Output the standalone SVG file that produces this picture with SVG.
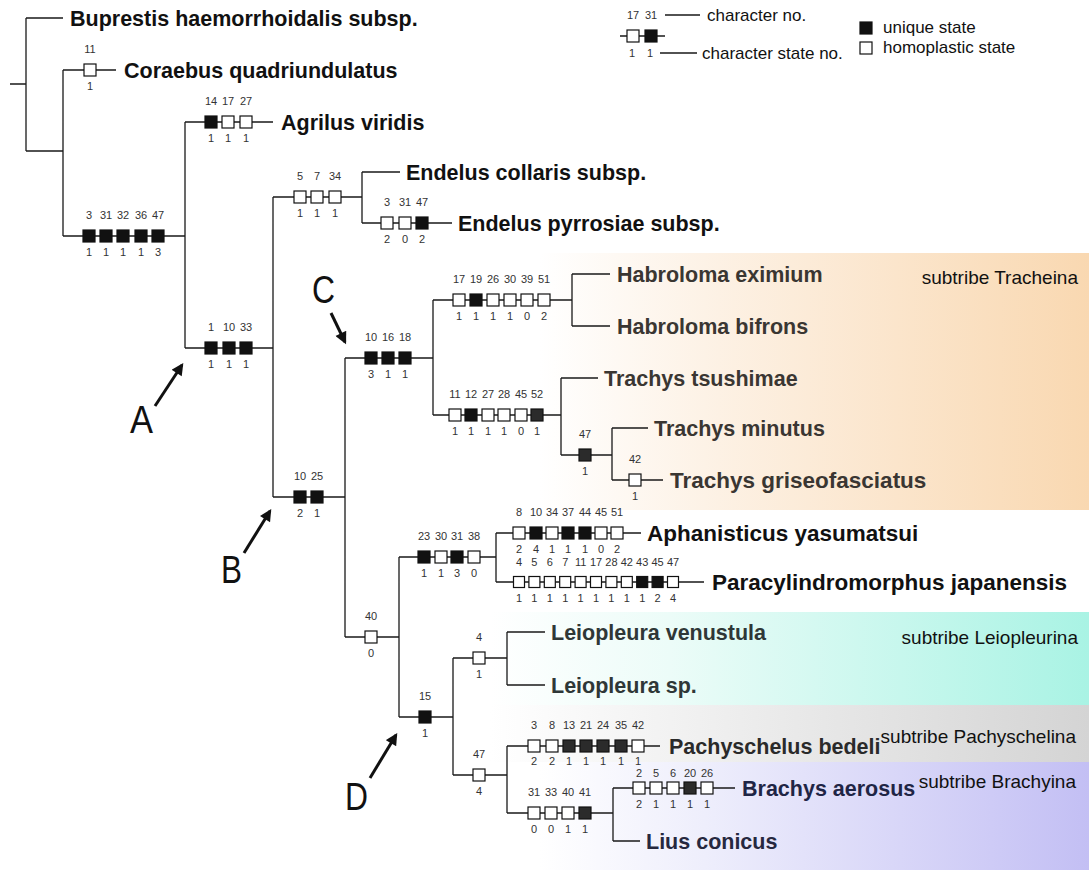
<svg xmlns="http://www.w3.org/2000/svg" width="1089" height="870" viewBox="0 0 1089 870">
<style>
  .ln{stroke:#1a1a1a;stroke-width:1.3;fill:none}
  .w{fill:#fff;stroke:#111;stroke-width:1.2}
  .b{fill:#111;stroke:#111;stroke-width:1.2}
  .d{fill:#2b2b2b;stroke:#111;stroke-width:1.2}
  .n{font-family:"Liberation Sans",Arial,sans-serif;font-size:11px;fill:#333;text-anchor:middle}
  .sp{font-family:"Liberation Sans",Arial,sans-serif;font-size:21.5px;font-weight:bold;fill:#111}
  .big{font-size:22.5px}
  .st{font-family:"Liberation Sans",Arial,sans-serif;font-size:19px;fill:#111;text-anchor:end}
  .lg{font-family:"Liberation Sans",Arial,sans-serif;font-size:17px;fill:#111}
  .let{font-family:"Liberation Sans",Arial,sans-serif;font-size:38px;fill:#111}
  .arr{stroke:#111;stroke-width:3;fill:none;marker-end:url(#ah)}
</style>
<defs>
  <marker id="ah" viewBox="0 0 10 10" refX="8" refY="5" markerWidth="4.5" markerHeight="4" orient="auto" markerUnits="strokeWidth">
    <path d="M0,0 L10,5 L0,10 z" fill="#111"/>
  </marker>
  <linearGradient id="gTrach" x1="0" y1="0" x2="1" y2="0">
    <stop offset="0" stop-color="#ffffff"/>
    <stop offset="0.3" stop-color="#fdf2e6"/>
    <stop offset="1" stop-color="#f9d8b1"/>
  </linearGradient>
  <linearGradient id="gLeio" x1="0" y1="0" x2="1" y2="0">
    <stop offset="0" stop-color="#ffffff"/>
    <stop offset="0.3" stop-color="#ecfcf8"/>
    <stop offset="1" stop-color="#a9f3e4"/>
  </linearGradient>
  <linearGradient id="gPach" x1="0" y1="0" x2="1" y2="0">
    <stop offset="0" stop-color="#ffffff"/>
    <stop offset="1" stop-color="#d4d4d4"/>
  </linearGradient>
  <linearGradient id="gBrach" x1="0" y1="0" x2="1" y2="0">
    <stop offset="0" stop-color="#ffffff"/>
    <stop offset="0.3" stop-color="#eeeefc"/>
    <stop offset="1" stop-color="#c3bff4"/>
  </linearGradient>
</defs>

<rect width="1089" height="870" fill="#fff"/>

<!-- subtribe shading bands -->
<g id="bands">
  <rect x="540" y="253" width="549" height="257" fill="url(#gTrach)"/>
  <rect x="490" y="612" width="599" height="93" fill="url(#gLeio)"/>
  <rect x="490" y="705" width="599" height="57" fill="url(#gPach)"/>
  <rect x="540" y="762" width="549" height="108" fill="url(#gBrach)"/>
</g>

<!-- tree branches -->
<g id="connectors">
  <path class="ln" d="M10,84H26 M26,18V151 M26,18H63 M26,151H63
    M63,70V236 M63,70H116 M63,236H185
    M185,122V348 M185,122H273 M185,348H273
    M273,197V497 M273,197H362 M362,172V223 M362,172H400 M362,223H452
    M273,497H345 M345,358V637 M345,358H433
    M433,300V415 M433,300H572 M572,274V326 M572,274H610 M572,326H610
    M433,415H561 M561,378V455 M561,378H598 M561,455H612
    M612,428V480 M612,428H648 M612,480H663
    M345,637H399 M399,557V717 M399,557H496
    M496,533V582 M496,533H641 M496,582H704
    M399,717H453 M453,658V775 M453,658H507
    M507,632V685 M507,632H545 M507,685H545
    M453,775H507 M507,746V813 M507,746H660
    M507,813H613 M613,788V841 M613,788H735 M613,841H640"/>
</g>

<!-- character state markers on branches -->
<g id="br-coraebus">
  <rect class="w" x="84" y="64" width="12" height="12"/>
  <text class="n" y="53"><tspan x="90">11</tspan></text>
  <text class="n" y="90"><tspan x="90">1</tspan></text>
</g>
<g id="br-ingroup">
  <rect class="b" x="83" y="230" width="12" height="12"/>
  <rect class="b" x="100" y="230" width="12" height="12"/>
  <rect class="b" x="117" y="230" width="12" height="12"/>
  <rect class="b" x="135" y="230" width="12" height="12"/>
  <rect class="b" x="152" y="230" width="12" height="12"/>
  <text class="n" y="219"><tspan x="89">3</tspan><tspan x="106">31</tspan><tspan x="123">32</tspan><tspan x="141">36</tspan><tspan x="158">47</tspan></text>
  <text class="n" y="256"><tspan x="89">1</tspan><tspan x="106">1</tspan><tspan x="123">1</tspan><tspan x="141">1</tspan><tspan x="158">3</tspan></text>
</g>
<g id="br-agrilus">
  <rect class="b" x="205" y="116" width="12" height="12"/>
  <rect class="w" x="222" y="116" width="12" height="12"/>
  <rect class="w" x="240" y="116" width="12" height="12"/>
  <text class="n" y="105"><tspan x="211">14</tspan><tspan x="228">17</tspan><tspan x="246">27</tspan></text>
  <text class="n" y="142"><tspan x="211">1</tspan><tspan x="228">1</tspan><tspan x="246">1</tspan></text>
</g>
<g id="br-A">
  <rect class="b" x="205" y="342" width="12" height="12"/>
  <rect class="b" x="223" y="342" width="12" height="12"/>
  <rect class="b" x="240" y="342" width="12" height="12"/>
  <text class="n" y="331"><tspan x="211">1</tspan><tspan x="229">10</tspan><tspan x="246">33</tspan></text>
  <text class="n" y="368"><tspan x="211">1</tspan><tspan x="229">1</tspan><tspan x="246">1</tspan></text>
</g>
<g id="br-endelus">
  <rect class="w" x="294" y="191" width="12" height="12"/>
  <rect class="w" x="311" y="191" width="12" height="12"/>
  <rect class="w" x="329" y="191" width="12" height="12"/>
  <text class="n" y="180"><tspan x="300">5</tspan><tspan x="317">7</tspan><tspan x="335">34</tspan></text>
  <text class="n" y="217"><tspan x="300">1</tspan><tspan x="317">1</tspan><tspan x="335">1</tspan></text>
</g>
<g id="br-pyrrosiae">
  <rect class="w" x="381" y="217" width="12" height="12"/>
  <rect class="w" x="399" y="217" width="12" height="12"/>
  <rect class="b" x="416" y="217" width="12" height="12"/>
  <text class="n" y="206"><tspan x="387">3</tspan><tspan x="405">31</tspan><tspan x="422">47</tspan></text>
  <text class="n" y="243"><tspan x="387">2</tspan><tspan x="405">0</tspan><tspan x="422">2</tspan></text>
</g>
<g id="br-B">
  <rect class="b" x="294" y="491" width="12" height="12"/>
  <rect class="b" x="311" y="491" width="12" height="12"/>
  <text class="n" y="480"><tspan x="300">10</tspan><tspan x="317">25</tspan></text>
  <text class="n" y="517"><tspan x="300">2</tspan><tspan x="317">1</tspan></text>
</g>
<g id="br-C">
  <rect class="b" x="365" y="352" width="12" height="12"/>
  <rect class="b" x="382" y="352" width="12" height="12"/>
  <rect class="b" x="399" y="352" width="12" height="12"/>
  <text class="n" y="341"><tspan x="371">10</tspan><tspan x="388">16</tspan><tspan x="405">18</tspan></text>
  <text class="n" y="378"><tspan x="371">3</tspan><tspan x="388">1</tspan><tspan x="405">1</tspan></text>
</g>
<g id="br-habroloma">
  <rect class="w" x="453" y="294" width="12" height="12"/>
  <rect class="b" x="470" y="294" width="12" height="12"/>
  <rect class="w" x="487" y="294" width="12" height="12"/>
  <rect class="w" x="504" y="294" width="12" height="12"/>
  <rect class="w" x="521" y="294" width="12" height="12"/>
  <rect class="w" x="538" y="294" width="12" height="12"/>
  <text class="n" y="283"><tspan x="459">17</tspan><tspan x="476">19</tspan><tspan x="493">26</tspan><tspan x="510">30</tspan><tspan x="527">39</tspan><tspan x="544">51</tspan></text>
  <text class="n" y="320"><tspan x="459">1</tspan><tspan x="476">1</tspan><tspan x="493">1</tspan><tspan x="510">1</tspan><tspan x="527">0</tspan><tspan x="544">2</tspan></text>
</g>
<g id="br-trachys">
  <rect class="w" x="449" y="409" width="12" height="12"/>
  <rect class="b" x="465" y="409" width="12" height="12"/>
  <rect class="w" x="482" y="409" width="12" height="12"/>
  <rect class="w" x="498" y="409" width="12" height="12"/>
  <rect class="w" x="515" y="409" width="12" height="12"/>
  <rect class="d" x="531" y="409" width="12" height="12"/>
  <text class="n" y="398"><tspan x="455">11</tspan><tspan x="471">12</tspan><tspan x="488">27</tspan><tspan x="504">28</tspan><tspan x="521">45</tspan><tspan x="537">52</tspan></text>
  <text class="n" y="435"><tspan x="455">1</tspan><tspan x="471">1</tspan><tspan x="488">1</tspan><tspan x="504">1</tspan><tspan x="521">0</tspan><tspan x="537">1</tspan></text>
</g>
<g id="br-trachys47">
  <rect class="d" x="579" y="449" width="12" height="12"/>
  <text class="n" y="438"><tspan x="585">47</tspan></text>
  <text class="n" y="475"><tspan x="585">1</tspan></text>
</g>
<g id="br-griseo">
  <rect class="w" x="629" y="474" width="12" height="12"/>
  <text class="n" y="463"><tspan x="635">42</tspan></text>
  <text class="n" y="500"><tspan x="635">1</tspan></text>
</g>
<g id="br-40">
  <rect class="w" x="365" y="631" width="12" height="12"/>
  <text class="n" y="620"><tspan x="371">40</tspan></text>
  <text class="n" y="657"><tspan x="371">0</tspan></text>
</g>
<g id="br-aphpara">
  <rect class="b" x="418" y="551" width="12" height="12"/>
  <rect class="w" x="435" y="551" width="12" height="12"/>
  <rect class="b" x="451" y="551" width="12" height="12"/>
  <rect class="w" x="468" y="551" width="12" height="12"/>
  <text class="n" y="540"><tspan x="424">23</tspan><tspan x="441">30</tspan><tspan x="457">31</tspan><tspan x="474">38</tspan></text>
  <text class="n" y="577"><tspan x="424">1</tspan><tspan x="441">1</tspan><tspan x="457">3</tspan><tspan x="474">0</tspan></text>
</g>
<g id="br-aphanisticus">
  <rect class="w" x="513" y="527" width="12" height="12"/>
  <rect class="b" x="530" y="527" width="12" height="12"/>
  <rect class="w" x="546" y="527" width="12" height="12"/>
  <rect class="b" x="562" y="527" width="12" height="12"/>
  <rect class="b" x="579" y="527" width="12" height="12"/>
  <rect class="w" x="595" y="527" width="12" height="12"/>
  <rect class="w" x="611" y="527" width="12" height="12"/>
  <text class="n" y="516"><tspan x="519">8</tspan><tspan x="536">10</tspan><tspan x="552">34</tspan><tspan x="568">37</tspan><tspan x="585">44</tspan><tspan x="601">45</tspan><tspan x="617">51</tspan></text>
  <text class="n" y="553"><tspan x="519">2</tspan><tspan x="536">4</tspan><tspan x="552">1</tspan><tspan x="568">1</tspan><tspan x="585">1</tspan><tspan x="601">0</tspan><tspan x="617">2</tspan></text>
</g>
<g id="br-paracylindromorphus">
  <rect class="w" x="513.5" y="576.5" width="11" height="11"/>
  <rect class="w" x="528.9" y="576.5" width="11" height="11"/>
  <rect class="w" x="544.3" y="576.5" width="11" height="11"/>
  <rect class="w" x="559.7" y="576.5" width="11" height="11"/>
  <rect class="w" x="575.1" y="576.5" width="11" height="11"/>
  <rect class="w" x="590.5" y="576.5" width="11" height="11"/>
  <rect class="w" x="605.9" y="576.5" width="11" height="11"/>
  <rect class="w" x="621.3" y="576.5" width="11" height="11"/>
  <rect class="b" x="636.7" y="576.5" width="11" height="11"/>
  <rect class="b" x="652.1" y="576.5" width="11" height="11"/>
  <rect class="w" x="667.5" y="576.5" width="11" height="11"/>
  <text class="n" y="566"><tspan x="519">4</tspan><tspan x="534.4">5</tspan><tspan x="549.8">6</tspan><tspan x="565.2">7</tspan><tspan x="580.6">11</tspan><tspan x="596">17</tspan><tspan x="611.4">28</tspan><tspan x="626.8">42</tspan><tspan x="642.2">43</tspan><tspan x="657.6">45</tspan><tspan x="673">47</tspan></text>
  <text class="n" y="602"><tspan x="519">1</tspan><tspan x="534.4">1</tspan><tspan x="549.8">1</tspan><tspan x="565.2">1</tspan><tspan x="580.6">1</tspan><tspan x="596">1</tspan><tspan x="611.4">1</tspan><tspan x="626.8">1</tspan><tspan x="642.2">1</tspan><tspan x="657.6">2</tspan><tspan x="673">4</tspan></text>
</g>
<g id="br-D">
  <rect class="b" x="419" y="711" width="12" height="12"/>
  <text class="n" y="700"><tspan x="425">15</tspan></text>
  <text class="n" y="737"><tspan x="425">1</tspan></text>
</g>
<g id="br-leiopleura">
  <rect class="w" x="473" y="652" width="12" height="12"/>
  <text class="n" y="641"><tspan x="479">4</tspan></text>
  <text class="n" y="678"><tspan x="479">1</tspan></text>
</g>
<g id="br-47">
  <rect class="w" x="473" y="769" width="12" height="12"/>
  <text class="n" y="758"><tspan x="479">47</tspan></text>
  <text class="n" y="795"><tspan x="479">4</tspan></text>
</g>
<g id="br-pachyschelus">
  <rect class="w" x="528" y="740" width="12" height="12"/>
  <rect class="w" x="546" y="740" width="12" height="12"/>
  <rect class="d" x="563" y="740" width="12" height="12"/>
  <rect class="d" x="580" y="740" width="12" height="12"/>
  <rect class="d" x="597" y="740" width="12" height="12"/>
  <rect class="d" x="615" y="740" width="12" height="12"/>
  <rect class="w" x="632" y="740" width="12" height="12"/>
  <text class="n" y="729"><tspan x="534">3</tspan><tspan x="552">8</tspan><tspan x="569">13</tspan><tspan x="586">21</tspan><tspan x="603">24</tspan><tspan x="621">35</tspan><tspan x="638">42</tspan></text>
  <text class="n" y="765"><tspan x="534">2</tspan><tspan x="552">2</tspan><tspan x="569">1</tspan><tspan x="586">1</tspan><tspan x="603">1</tspan><tspan x="621">1</tspan><tspan x="638">1</tspan></text>
</g>
<g id="br-brachylius">
  <rect class="w" x="528" y="807" width="12" height="12"/>
  <rect class="w" x="545" y="807" width="12" height="12"/>
  <rect class="w" x="562" y="807" width="12" height="12"/>
  <rect class="d" x="579" y="807" width="12" height="12"/>
  <text class="n" y="796"><tspan x="534">31</tspan><tspan x="551">33</tspan><tspan x="568">40</tspan><tspan x="585">41</tspan></text>
  <text class="n" y="833"><tspan x="534">0</tspan><tspan x="551">0</tspan><tspan x="568">1</tspan><tspan x="585">1</tspan></text>
</g>
<g id="br-brachys">
  <rect class="w" x="633" y="782" width="12" height="12"/>
  <rect class="w" x="650" y="782" width="12" height="12"/>
  <rect class="w" x="667" y="782" width="12" height="12"/>
  <rect class="d" x="684" y="782" width="12" height="12"/>
  <rect class="w" x="701" y="782" width="12" height="12"/>
  <text class="n" y="777"><tspan x="639">2</tspan><tspan x="656">5</tspan><tspan x="673">6</tspan><tspan x="690">20</tspan><tspan x="707">26</tspan></text>
  <text class="n" y="808"><tspan x="639">2</tspan><tspan x="656">1</tspan><tspan x="673">1</tspan><tspan x="690">1</tspan><tspan x="707">1</tspan></text>
</g>

<!-- terminal taxa -->
<g id="taxon-buprestis"><text class="sp" x="70" y="26">Buprestis haemorrhoidalis subsp.</text></g>
<g id="taxon-coraebus"><text class="sp" x="124" y="78">Coraebus quadriundulatus</text></g>
<g id="taxon-agrilus"><text class="sp" x="281" y="130">Agrilus viridis</text></g>
<g id="taxon-endelus-collaris"><text class="sp" x="406" y="180">Endelus collaris subsp.</text></g>
<g id="taxon-endelus-pyrrosiae"><text class="sp" x="458" y="231">Endelus pyrrosiae subsp.</text></g>
<g id="taxon-habroloma-eximium"><text class="sp" x="617" y="282" style="fill:#3a3632">Habroloma eximium</text></g>
<g id="taxon-habroloma-bifrons"><text class="sp" x="617" y="334" style="fill:#3a3632">Habroloma bifrons</text></g>
<g id="taxon-trachys-tsushimae"><text class="sp" x="604" y="386" style="fill:#3a3632">Trachys tsushimae</text></g>
<g id="taxon-trachys-minutus"><text class="sp" x="654" y="436" style="fill:#3a3632">Trachys minutus</text></g>
<g id="taxon-trachys-griseofasciatus"><text class="sp big" x="670" y="488" style="fill:#3a3632">Trachys griseofasciatus</text></g>
<g id="taxon-aphanisticus"><text class="sp big" x="647" y="541">Aphanisticus yasumatsui</text></g>
<g id="taxon-paracylindromorphus"><text class="sp big" x="712" y="590">Paracylindromorphus japanensis</text></g>
<g id="taxon-leiopleura-venustula"><text class="sp" x="551" y="640" style="fill:#2f3737">Leiopleura venustula</text></g>
<g id="taxon-leiopleura-sp"><text class="sp" x="551" y="693" style="fill:#2f3737">Leiopleura sp.</text></g>
<g id="taxon-pachyschelus"><text class="sp" x="669" y="754" style="fill:#2a2a2a">Pachyschelus bedeli</text></g>
<g id="taxon-brachys"><text class="sp" x="742" y="796" style="fill:#1f2545">Brachys aerosus</text></g>
<g id="taxon-lius"><text class="sp" x="646" y="849" style="fill:#26283f">Lius conicus</text></g>

<!-- subtribe names -->
<g id="subtribes">
  <text class="st" x="1078" y="284">subtribe Tracheina</text>
  <text class="st" x="1078" y="644">subtribe Leiopleurina</text>
  <text class="st" x="1076" y="743">subtribe Pachyschelina</text>
  <text class="st" x="1076" y="788">subtribe Brachyina</text>
</g>

<!-- clade pointers -->
<g id="pointer-A">
  <path class="arr" d="M155,406 L182,365"/>
  <text class="let" x="130" y="433" textLength="23" lengthAdjust="spacingAndGlyphs">A</text>
</g>
<g id="pointer-B">
  <path class="arr" d="M244,553 L270,511"/>
  <text class="let" x="221" y="583" textLength="21" lengthAdjust="spacingAndGlyphs">B</text>
</g>
<g id="pointer-C">
  <path class="arr" d="M331,313 L345,342"/>
  <text class="let" x="312" y="303" textLength="23" lengthAdjust="spacingAndGlyphs">C</text>
</g>
<g id="pointer-D">
  <path class="arr" d="M370,778 L396,735"/>
  <text class="let" x="345" y="810" textLength="23" lengthAdjust="spacingAndGlyphs">D</text>
</g>

<!-- key -->
<g id="legend">
  <text class="n" y="19"><tspan x="633">17</tspan><tspan x="651">31</tspan></text>
  <path class="ln" d="M665,15H700 M620,36H665 M660,53H697"/>
  <rect class="w" x="627" y="30" width="12" height="12"/>
  <rect class="b" x="645" y="30" width="12" height="12"/>
  <text class="n" y="57"><tspan x="632">1</tspan><tspan x="650">1</tspan></text>
  <text class="lg" x="707" y="21">character no.</text>
  <text class="lg" x="702" y="59">character state no.</text>
  <rect class="b" x="860" y="22" width="12" height="12"/>
  <text class="lg" x="883" y="33">unique state</text>
  <rect class="w" x="860" y="42" width="12" height="12"/>
  <text class="lg" x="883" y="53">homoplastic state</text>
</g>
</svg>
